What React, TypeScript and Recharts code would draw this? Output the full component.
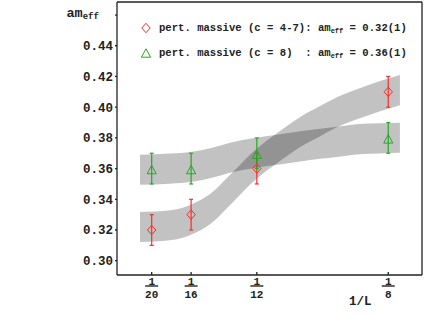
import React from 'react';
import { ComposedChart, Area, Scatter, ErrorBar, XAxis, YAxis, Legend, Label } from 'recharts';

const FONT = '"Liberation Mono", "DejaVu Sans Mono", monospace';
const INK = '#222';
const RED = '#ff2a2a';
const GREEN = '#22aa22';

// x ticks are 1/L
const xTicks = [1 / 20, 1 / 16, 1 / 12, 1 / 8];
const xTickDenoms = ['20', '16', '12', '8'];
const yTicks = [0.3, 0.32, 0.34, 0.36, 0.38, 0.4, 0.42, 0.44, 0.46];

// measured points
const pointX = [1 / 20, 1 / 16, 1 / 12, 1 / 8];
const redY = [0.32, 0.33, 0.36, 0.41];
const redErr = [0.01, 0.01, 0.01, 0.01];
const greenY = [0.36, 0.36, 0.37, 0.38];
const greenErr = [0.01, 0.01, 0.01, 0.01];

// fit bands (centre line, constant half width)
const bandX = [0.0463, 0.0558, 0.0628, 0.0685, 0.0758, 0.0827, 0.0897, 0.097, 0.1034, 0.1087, 0.116, 0.1224, 0.1287];
const redBandMid = [0.322, 0.3231, 0.327, 0.3336, 0.3481, 0.3622, 0.3733, 0.3837, 0.3909, 0.3967, 0.4026, 0.4072, 0.4111];
const greenBandMid = [0.3592, 0.36, 0.3612, 0.3635, 0.3676, 0.3702, 0.3723, 0.3745, 0.3762, 0.3774, 0.3792, 0.3797, 0.3801];
const bandHalf = 0.0098;

const legendNames = ['pert. massive (c = 4-7)', 'pert. massive (c = 8)  '];
const legendFits = ['0.32(1)', '0.36(1)'];

const redPts = pointX.map((x, i) => ({ x, y: redY[i], err: redErr[i] }));
const greenPts = pointX.map((x, i) => ({ x, y: greenY[i], err: greenErr[i] }));
const bandData = bandX.map((x, i) => ({
  x,
  red: [redBandMid[i] - bandHalf, redBandMid[i] + bandHalf],
  green: [greenBandMid[i] - bandHalf, greenBandMid[i] + bandHalf],
}));

const X_DOMAIN = [0.039, 0.1357];
const Y_DOMAIN = [0.2907, 0.4685];

const Diamond = ({ cx, cy }: any) => (
  <polygon
    points={`${cx},${cy - 4.7} ${cx + 4.2},${cy} ${cx},${cy + 4.7} ${cx - 4.2},${cy}`}
    fill="none"
    stroke={RED}
    strokeWidth={1}
  />
);

const Triangle = ({ cx, cy }: any) => (
  <polygon
    points={`${cx},${cy - 3.2} ${cx + 4.6},${cy + 5.2} ${cx - 4.6},${cy + 5.2}`}
    fill="none"
    stroke={GREEN}
    strokeWidth={1}
  />
);

const FracTick = ({ x, y, payload }: any) => {
  const i = xTicks.findIndex((t) => Math.abs(t - payload.value) < 1e-6);
  return (
    <g fontFamily={FONT} fontWeight="bold" fill={INK}>
      <text x={x} y={y + 12.5} textAnchor="middle" fontSize={11}>1</text>
      <line x1={x - 6.5} x2={x + 6.5} y1={y + 14} y2={y + 14} stroke={INK} strokeWidth={1.4} />
      <text x={x} y={y + 25.5} textAnchor="middle" fontSize={11}>{xTickDenoms[i]}</text>
    </g>
  );
};

const renderYLabel = () => (
  <text x={66.5} y={16.5} fontFamily={FONT} fontWeight="bold" fontSize={13.5} fill={INK}>
    am<tspan fontSize={9} dy={2.5}>eff</tspan>
  </text>
);

const renderXLabel = () => (
  <text x={349} y={305} fontFamily={FONT} fontWeight="bold" fontSize={12.5} fill={INK}>1/L</text>
);

const renderLegend = () => (
  <svg width={424} height={64} style={{ display: 'block' }}>
    {legendNames.map((name, i) => {
      const cy = 28 + i * 25;
      return (
        <g key={name}>
          {i === 0 ? <Diamond cx={146} cy={cy} /> : <Triangle cx={146} cy={cy - 1} />}
          <text
            x={159}
            y={cy + 2.5}
            fontFamily={FONT}
            fontWeight="bold"
            fontSize={10.6}
            fill={INK}
            style={{ whiteSpace: 'pre' }}
          >
            {`${name}: am`}
            <tspan fontSize={7} dy={2}>eff</tspan>
            <tspan dy={-2}>{` = ${legendFits[i]}`}</tspan>
          </text>
        </g>
      );
    })}
  </svg>
);

export default function App() {
  return (
    <div style={{ position: 'absolute', left: 0, top: 0, width: 424, height: 314, background: '#fff' }}>
      <ComposedChart width={424} height={314} margin={{ top: 0, right: 0, bottom: 0, left: 0 }}>
        <XAxis
          dataKey="x"
          type="number"
          domain={X_DOMAIN}
          allowDataOverflow
          ticks={xTicks}
          interval={0}
          height={39}
          tickSize={-3}
          tickMargin={0}
          tick={<FracTick />}
          stroke={INK}
          strokeWidth={1.3}
        >
          <Label content={renderXLabel} />
        </XAxis>
        <XAxis
          xAxisId="top"
          orientation="top"
          dataKey="x"
          type="number"
          domain={X_DOMAIN}
          allowDataOverflow
          ticks={xTicks}
          interval={0}
          height={2}
          tickSize={-2}
          tick={false}
          stroke={INK}
          strokeWidth={1.3}
        />
        <YAxis
          type="number"
          domain={Y_DOMAIN}
          allowDataOverflow
          ticks={yTicks}
          interval={0}
          width={117}
          tickSize={2}
          tickMargin={2}
          tickFormatter={(v: number) => (v > 0.455 ? '' : v.toFixed(2))}
          tick={{ fontFamily: FONT, fontWeight: 'bold', fontSize: 12.5, fill: INK }}
          stroke={INK}
          strokeWidth={1.3}
        >
          <Label content={renderYLabel} />
        </YAxis>
        <YAxis
          yAxisId="right"
          orientation="right"
          type="number"
          domain={Y_DOMAIN}
          allowDataOverflow
          ticks={yTicks}
          interval={0}
          width={2}
          tickSize={-2}
          tick={false}
          stroke={INK}
          strokeWidth={1.3}
        />
        <Legend
          content={renderLegend}
          layout="horizontal"
          verticalAlign="middle"
          align="center"
          wrapperStyle={{ left: 0, top: 0, width: 424, height: 64 }}
        />
        <Area
          data={bandData}
          dataKey="red"
          type="monotone"
          stroke="none"
          fill="#000"
          fillOpacity={0.24}
          legendType="none"
          isAnimationActive={false}
        />
        <Area
          data={bandData}
          dataKey="green"
          type="monotone"
          stroke="none"
          fill="#000"
          fillOpacity={0.24}
          legendType="none"
          isAnimationActive={false}
        />
        <Scatter data={redPts} dataKey="y" shape={<Diamond />} isAnimationActive={false}>
          <ErrorBar dataKey="err" direction="y" width={2} stroke={RED} strokeWidth={1.2} />
        </Scatter>
        <Scatter data={greenPts} dataKey="y" shape={<Triangle />} isAnimationActive={false}>
          <ErrorBar dataKey="err" direction="y" width={2} stroke={GREEN} strokeWidth={1.2} />
        </Scatter>
      </ComposedChart>
    </div>
  );
}
